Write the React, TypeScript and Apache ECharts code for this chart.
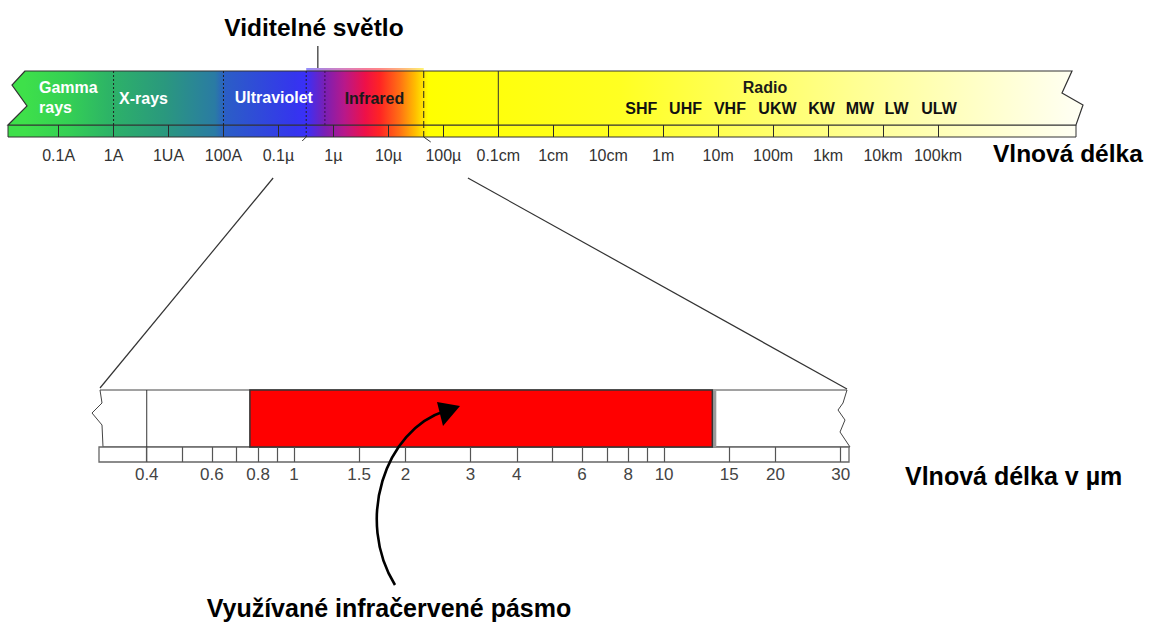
import React, { useEffect, useRef } from 'react';
import * as echarts from 'echarts';

// ---------- Top scale: electromagnetic spectrum (wavelength in metres) ----------
const spectrumTicks = [1e-11, 1e-10, 1e-9, 1e-8, 1e-7, 1e-6, 1e-5, 1e-4, 1e-3, 1e-2, 1e-1, 1, 10, 100, 1e3, 1e4, 1e5];
const spectrumTickLabels = ['0.1A', '1A', '1UA', '100A', '0.1µ', '1µ', '10µ', '100µ', '0.1cm', '1cm', '10cm', '1m', '10m', '100m', '1km', '10km', '100km'];
const spectrumExtent = [1.2e-12, 4.35e7];
const bandEdges = [1e-10, 1e-8, 3.2e-7, 7e-7, 4.4e-5, 1e-3];
const bandNames = ['Gamma\nrays', 'X-rays', 'Ultraviolet', 'Infrared', 'Radio'];
const bandNameAt = [4.4e-12, 1.26e-10, 1.6e-8, 1.6e-6, 28];
const radioBands = ['SHF', 'UHF', 'VHF', 'UKW', 'KW', 'MW', 'LW', 'ULW'];
const radioBandAt = [0.4, 2.55, 16.4, 120, 760, 3800, 17600, 104500];
const visibleOverhang = [3.2e-7, 4.4e-5];
const visiblePointerAt = 5.2e-7;
const spectrumColorAt = [2.4e-12, 1.6e-11, 7.9e-11, 8.6e-10, 7.0e-9, 1.07e-8, 2.0e-7, 3.2e-7, 7.0e-7, 1.6e-6, 3.8e-6, 7.0e-6, 1.6e-5, 3.1e-5, 5.3e-5, 0.16, 2500, 3.1e7];
const spectrumColors = ['#3ee04a', '#34cf55', '#2db466', '#2a987e', '#2a7ba4', '#2b5ec6', '#3535ee', '#3a30f8', '#7a1fb4', '#b8188a', '#ee1048', '#ff2424', '#ff7014', '#ffbe00', '#ffff00', '#ffff22', '#ffff90', '#fffff2'];
const zoomFrom = [8e-8, 2.8e-4];

// ---------- Bottom scale: wavelength in µm ----------
const irTicks = [0.4, 0.5, 0.6, 0.7, 0.8, 0.9, 1, 1.5, 2, 3, 4, 5, 6, 7, 8, 9, 10, 15, 20, 30];
const irTickLabels = [0.4, 0.6, 0.8, 1, 1.5, 2, 3, 4, 6, 8, 10, 15, 20, 30];
const irExtent = [0.2972, 31.6];
const usedBand = [0.76, 13.5];
const dividerAt = 0.4;

const lg = (v: number) => Math.log10(v);
const SANS = '"Liberation Sans", Arial, Helvetica, sans-serif';

function txt(x: number, y: number, text: string, opts: any) {
  return {
    type: 'text',
    x,
    y,
    z: opts.z,
    style: {
      text,
      fill: opts.fill || '#000',
      font: opts.font,
      align: opts.align || 'left',
      textAlign: opts.align || 'left',
      verticalAlign: 'middle',
      textVerticalAlign: 'middle',
      lineHeight: opts.lineHeight,
    },
  };
}

function renderSpectrum(params: any, api: any) {
  const cs = params.coordSys;
  const X = (w: number) => api.coord([lg(w), 0])[0];
  const top = cs.y;
  const bottom = cs.y + cs.height;
  const stripTop = bottom - 12;
  const x0 = X(spectrumExtent[0]);
  const x1 = X(spectrumExtent[1]);
  const stops = spectrumColorAt.map((w, i) => ({
    offset: Math.min(1, Math.max(0, (X(w) - x0) / (x1 - x0))),
    color: spectrumColors[i],
  }));
  const grad = { type: 'linear', x: x0, y: 0, x2: x1, y2: 0, global: true, colorStops: stops };
  const children: any[] = [];
  const vo0 = X(visibleOverhang[0]);
  const vo1 = X(visibleOverhang[1]);
  children.push({ type: 'rect', shape: { x: vo0, y: top - 3, width: vo1 - vo0, height: 5 }, style: { fill: grad, opacity: 0.55 } });
  children.push({
    type: 'rect',
    shape: { x: x0, y: stripTop, width: x1 - 7 - x0, height: bottom - stripTop },
    style: { fill: grad, stroke: '#333', lineWidth: 1 },
  });
  children.push({
    type: 'polygon',
    shape: {
      points: [
        [x0 + 17, top], [x0 + 4, top + 14], [x0 + 19, top + 35], [x0, stripTop],
        [x1 - 7, stripTop], [x1, top + 34], [x1 - 21, top + 22], [x1 - 11, top],
      ],
    },
    style: { fill: grad, stroke: '#333', lineWidth: 1.2 },
  });
  const edgeStyles = [
    { dash: [2, 2], color: '#222', toBottom: false },
    { dash: [2, 2], color: '#222', toBottom: false },
    { dash: [2, 2], color: '#222', toBottom: true },
    { dash: [2, 2], color: '#3a1050', toBottom: false },
    { dash: [7, 3], color: '#222', toBottom: true },
    { dash: null, color: '#333', toBottom: false },
  ];
  bandEdges.forEach((w, i) => {
    const s = edgeStyles[i];
    const x = X(w);
    children.push({
      type: 'line',
      shape: { x1: x, y1: top, x2: x, y2: s.toBottom ? bottom : stripTop },
      style: { stroke: s.color, lineWidth: 1, lineDash: s.dash || undefined },
    });
  });
  const h0 = X(bandEdges[2]);
  const h1 = X(bandEdges[4]);
  children.push({ type: 'polyline', shape: { points: [[h0, bottom], [h0 - 4, bottom + 4]] }, style: { stroke: '#333', lineWidth: 1, fill: null } });
  children.push({ type: 'polyline', shape: { points: [[h1, bottom], [h1 + 7, bottom + 5]] }, style: { stroke: '#333', lineWidth: 1, fill: null } });
  const pxv = X(visiblePointerAt);
  children.push({ type: 'line', shape: { x1: pxv, y1: 46, x2: pxv, y2: top - 3 }, style: { stroke: '#555', lineWidth: 1.5 } });
  const nameDy = [26, 27, 26, 27, 16];
  const nameFill = ['#ffffff', '#ffffff', '#ffffff', '#1a1a1a', '#1a1a1a'];
  bandNames.forEach((n, i) => {
    children.push(txt(X(bandNameAt[i]), top + nameDy[i], n, { font: `bold 16px ${SANS}`, fill: nameFill[i], lineHeight: 20 }));
  });
  radioBands.forEach((n, i) => {
    children.push(txt(X(radioBandAt[i]), top + 37, n, { font: `bold 16px ${SANS}`, fill: '#111', align: 'center' }));
  });
  return { type: 'group', children };
}

function renderIr(params: any, api: any) {
  const cs = params.coordSys;
  const X = (w: number) => api.coord([lg(w), 0])[0];
  const top = cs.y;
  const bottom = cs.y + cs.height;
  const stripTop = bottom - 15;
  const xL = X(irExtent[0]);
  const xR = X(irExtent[1]);
  const children: any[] = [];
  children.push({
    type: 'polygon',
    shape: {
      points: [
        [xL + 1, top], [xR - 2, top], [xR - 6, top + 13], [xR - 11, top + 20], [xR - 4, top + 30], [xR - 9, top + 42], [xR + 1, stripTop],
        [xL + 4, stripTop], [xL + 3, top + 35], [xL - 7, top + 23], [xL + 3, top + 13],
      ],
    },
    style: { fill: '#fff', stroke: '#444', lineWidth: 1 },
  });
  children.push({
    type: 'rect',
    shape: { x: xL, y: stripTop, width: xR - xL, height: bottom - stripTop },
    style: { fill: '#fff', stroke: '#666', lineWidth: 1.3 },
  });
  const xd = X(dividerAt);
  children.push({ type: 'line', shape: { x1: xd, y1: top, x2: xd, y2: bottom }, style: { stroke: '#333', lineWidth: 1 } });
  const r0 = X(usedBand[0]);
  const r1 = X(usedBand[1]);
  children.push({ type: 'rect', shape: { x: r1, y: top + 1, width: 4, height: stripTop - top - 1 }, style: { fill: '#9a9a9a' } });
  children.push({
    type: 'rect',
    shape: { x: r0, y: top, width: r1 - r0, height: stripTop - top },
    style: { fill: '#ff0000', stroke: '#333', lineWidth: 1.5 },
  });
  return { type: 'group', children };
}

function buildOption() {
  const topTickVals = spectrumTicks.map(lg);
  const irTickVals = irTicks.map(lg);
  const irLabelVals = irTickLabels.map(lg);
  return {
    animation: false,
    backgroundColor: '#ffffff',
    grid: [
      { left: 8, top: 71, width: 1075, height: 66 },
      { left: 99, top: 390, width: 750, height: 72 },
    ],
    xAxis: [
      {
        type: 'value',
        gridIndex: 0,
        min: lg(spectrumExtent[0]),
        max: lg(spectrumExtent[1]),
        z: 5,
        axisLine: { show: false },
        splitLine: { show: false },
        axisTick: { show: true, inside: true, length: 12, customValues: topTickVals, lineStyle: { color: '#2a2a2a', width: 1 } },
        axisLabel: {
          customValues: topTickVals,
          margin: 10,
          color: '#333',
          fontSize: 16,
          fontFamily: SANS,
          formatter: (v: number) => {
            const i = topTickVals.findIndex((t) => Math.abs(t - v) < 1e-6);
            return i >= 0 ? spectrumTickLabels[i] : '';
          },
        },
      },
      {
        type: 'value',
        gridIndex: 1,
        min: lg(irExtent[0]),
        max: lg(irExtent[1]),
        z: 5,
        axisLine: { show: false },
        splitLine: { show: false },
        axisTick: { show: true, inside: true, length: 15, customValues: irTickVals, lineStyle: { color: '#555', width: 1.2 } },
        axisLabel: {
          customValues: irLabelVals,
          margin: 4,
          color: '#444',
          fontSize: 17,
          fontFamily: SANS,
          formatter: (v: number) => {
            const i = irLabelVals.findIndex((t) => Math.abs(t - v) < 1e-6);
            return i >= 0 ? String(irTickLabels[i]) : '';
          },
        },
      },
    ],
    yAxis: [
      { type: 'value', gridIndex: 0, min: 0, max: 1, show: false },
      { type: 'value', gridIndex: 1, min: 0, max: 1, show: false },
    ],
    series: [
      { type: 'custom', xAxisIndex: 0, yAxisIndex: 0, data: [[0, 0]], renderItem: renderSpectrum, z: 1, silent: true, clip: false },
      { type: 'custom', xAxisIndex: 1, yAxisIndex: 1, data: [[0, 0]], renderItem: renderIr, z: 1, silent: true, clip: false },
    ],
  };
}

export default function App() {
  const ref = useRef<HTMLDivElement>(null);
  useEffect(() => {
    const el = ref.current as HTMLDivElement;
    const chart = echarts.init(el, undefined, { renderer: 'svg' });
    chart.setOption(buildOption() as any);
    const px = (axis: number, v: number) => chart.convertToPixel({ xAxisIndex: axis } as any, lg(v)) as unknown as number;
    const head = (s: number) => `bold ${s}px ${SANS}`;
    const graphic: any[] = [
      { type: 'line', z: 50, shape: { x1: px(0, zoomFrom[0]), y1: 178, x2: px(1, irExtent[0]) + 1, y2: 388 }, style: { stroke: '#333', lineWidth: 1.2 } },
      { type: 'line', z: 50, shape: { x1: px(0, zoomFrom[1]), y1: 178, x2: px(1, irExtent[1]) - 2, y2: 389 }, style: { stroke: '#333', lineWidth: 1.2 } },
      txt(314, 27, 'Viditelné světlo', { font: head(24.5), align: 'center', z: 50 }),
      txt(993, 153, 'Vlnová délka', { font: head(24.5), z: 50 }),
      txt(905, 476, 'Vlnová délka v µm', { font: head(25), z: 50 }),
      txt(389, 608, 'Využívané infračervené pásmo', { font: head(25), align: 'center', z: 50 }),
      {
        type: 'bezierCurve',
        z: 100,
        shape: { x1: 395, y1: 585, cpx1: 355, cpy1: 520, cpx2: 385, cpy2: 430, x2: 445, y2: 411 },
        style: { stroke: '#000', lineWidth: 2.6, fill: null },
      },
      { type: 'polygon', z: 100, shape: { points: [[437, 402], [460, 406], [443, 426]] }, style: { fill: '#000' } },
    ];
    chart.setOption({ graphic });
    return () => chart.dispose();
  }, []);
  return <div ref={ref} style={{ position: 'fixed', left: 0, top: 0, width: 1152, height: 623, background: '#fff' }} />;
}
